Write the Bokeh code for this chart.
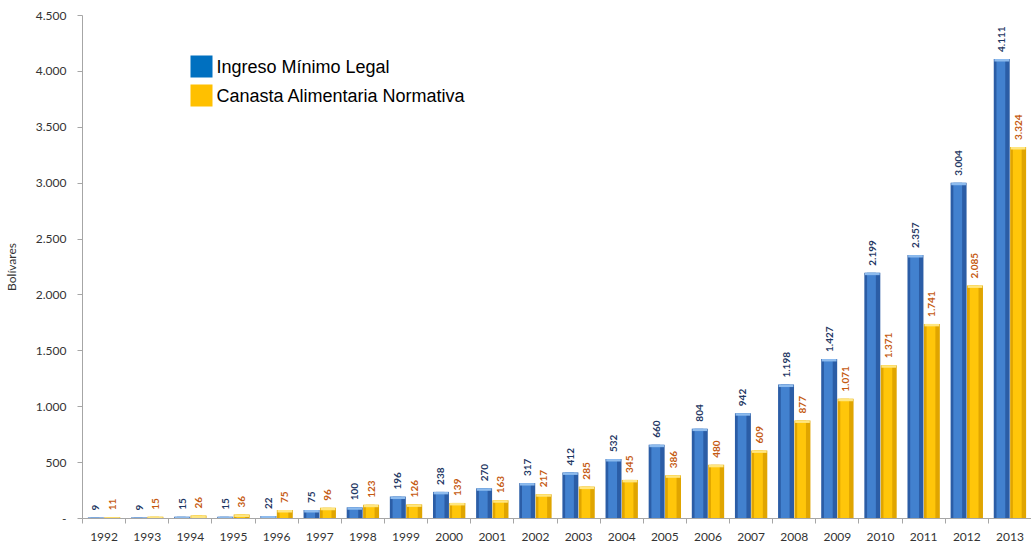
import math
from bokeh.plotting import figure
from bokeh.models import Range1d, FixedTicker, ColumnDataSource, BoxAnnotation, Label
from bokeh.transform import dodge
from bokeh.core.properties import value
from bokeh.embed import file_html
from bokeh.resources import INLINE

years = [1992, 1993, 1994, 1995, 1996, 1997, 1998, 1999, 2000, 2001, 2002,
         2003, 2004, 2005, 2006, 2007, 2008, 2009, 2010, 2011, 2012, 2013]
ingreso = [9, 9, 15, 15, 22, 75, 100, 196, 238, 270, 317,
           412, 532, 660, 804, 942, 1198, 1427, 2199, 2357, 3004, 4111]
canasta = [11, 15, 26, 36, 75, 96, 123, 126, 139, 163, 217,
           285, 345, 386, 480, 609, 877, 1071, 1371, 1741, 2085, 3324]
y_ticks = [0, 500, 1000, 1500, 2000, 2500, 3000, 3500, 4000, 4500]
y_tick_labels = ["-", "500", "1.000", "1.500", "2.000", "2.500", "3.000", "3.500", "4.000", "4.500"]
year_labels = [str(y) for y in years]
series_names = ["Ingreso Mínimo Legal", "Canasta Alimentaria Normativa"]

def fmt(v):
    return f"{v:,}".replace(",", ".")

OFF = 0.19
BW = 0.37
CAP = 22  # bevel depth at bar top, in data units
xb = [y - OFF for y in years]
xy = [y + OFF for y in years]
src = ColumnDataSource(dict(
    year=years, ingreso=ingreso, canasta=canasta, xb=xb, xy=xy,
    ing_cap=[v - CAP for v in ingreso], can_cap=[v - CAP for v in canasta],
))

FONT = "Lato"
p = figure(width=1031, height=548, output_backend="svg", toolbar_location=None,
           x_range=Range1d(years[0] - 0.5, years[-1] + 0.5),
           y_range=Range1d(0, 4500),
           min_border_left=78, min_border_right=0, min_border_top=15, min_border_bottom=30)
p.outline_line_color = None
p.xgrid.grid_line_color = None
p.ygrid.grid_line_color = None
p.background_fill_color = "white"

# blue bars
p.vbar(x="xb", top="ingreso", width=BW, source=src,
       fill_color="#2B5DA6", line_color=None)
p.vbar(x=dodge("xb", -0.02), top="ingreso", width=BW * 0.55, source=src,
       fill_color="#4281CF", line_color=None)
p.vbar(x="xb", top="ingreso", bottom="ing_cap", width=BW * 0.92, source=src,
       fill_color="#8DBBEE", line_color=None)
# yellow bars
p.vbar(x="xy", top="canasta", width=BW, source=src,
       fill_color="#E0A500", line_color=None)
p.vbar(x=dodge("xy", -0.02), top="canasta", width=BW * 0.55, source=src,
       fill_color="#FFC60A", line_color=None)
p.vbar(x="xy", top="canasta", bottom="can_cap", width=BW * 0.92, source=src,
       fill_color="#FFE680", line_color=None)

# value labels, rotated 90 degrees
def vlabel(x, y, color):
    s = ColumnDataSource(dict(x=[x], y=[y], t=[fmt(y)], a=[math.pi / 2]))
    p.text(x="x", y="y", text="t", angle="a", source=s,
           text_align="left", text_baseline="middle", y_offset=-7,
           text_font=value(FONT), text_font_style="bold", text_font_size="10px",
           text_color=color)

for x, v in zip(xb, ingreso):
    vlabel(x, v, "#1F3864")
for x, v in zip(xy, canasta):
    vlabel(x, v, "#C55A11")

# axes
AX = "#A6A6A6"
ya = p.yaxis[0]
ya.ticker = FixedTicker(ticks=y_ticks)
ya.major_label_overrides = dict(zip(y_ticks, y_tick_labels))
ya.axis_line_color = AX
ya.major_tick_line_color = AX
ya.major_tick_out = 5
ya.major_tick_in = 0
ya.minor_tick_line_color = None
ya.major_label_standoff = 11
ya.major_label_text_font = FONT
ya.major_label_text_font_size = "12px"
ya.major_label_text_color = "#333333"
ya.axis_label = "Bolívares"
ya.axis_label_text_font = FONT
ya.axis_label_text_font_size = "12px"
ya.axis_label_text_font_style = "normal"
ya.axis_label_text_color = "#333333"
ya.axis_label_standoff = 14

xa = p.xaxis[0]
xa.ticker = FixedTicker(ticks=years, minor_ticks=[y - 0.5 for y in years] + [years[-1] + 0.5])
xa.major_label_overrides = dict(zip(years, year_labels))
xa.axis_line_color = AX
xa.major_tick_line_color = None
xa.major_tick_out = 0
xa.major_tick_in = 0
xa.minor_tick_line_color = AX
xa.minor_tick_out = 5
xa.minor_tick_in = 0
xa.major_label_standoff = 9
xa.major_label_text_font = FONT
xa.major_label_text_font_size = "12px"
xa.major_label_text_color = "#333333"

# legend: swatches and labels placed in frame pixel units
legend_colors = ["#0070C0", "#FFC000"]
SW_LEFT, SW_SIZE, TXT_LEFT = 108, 22, 134
row_bottoms = [441, 412]
for name, col, b in zip(series_names, legend_colors, row_bottoms):
    p.add_layout(BoxAnnotation(left=SW_LEFT, right=SW_LEFT + SW_SIZE, bottom=b, top=b + SW_SIZE,
                               left_units="screen", right_units="screen",
                               bottom_units="screen", top_units="screen",
                               fill_color=col, fill_alpha=1, line_color=None))
    p.add_layout(Label(x=TXT_LEFT, y=b + SW_SIZE / 2, x_units="screen", y_units="screen",
                       text=name, text_font="Liberation Sans", text_font_size="18px",
                       text_color="black", text_baseline="middle", text_align="left"))

open("out.html", "w").write(file_html(p, INLINE))
